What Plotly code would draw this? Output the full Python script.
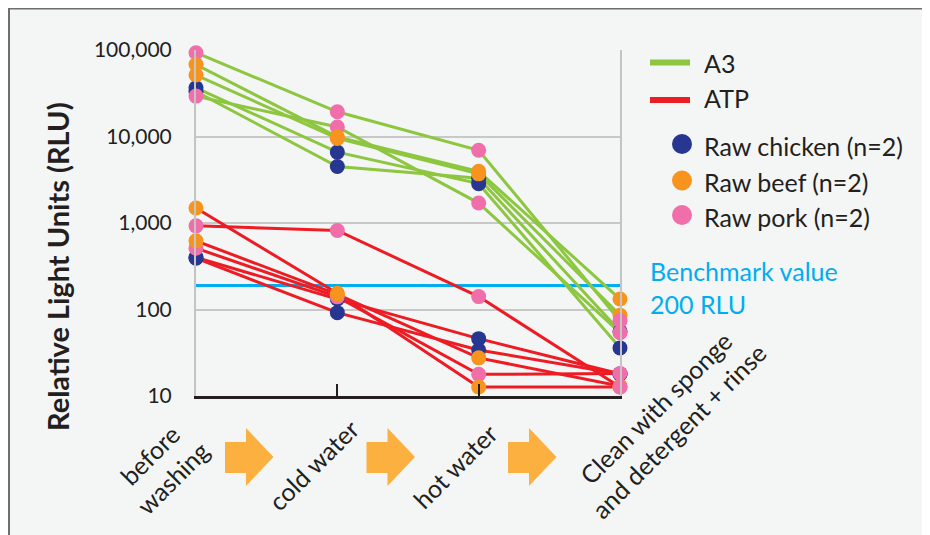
import plotly.graph_objects as go

# ---------------- data ----------------
STAGES = ["before washing", "cold water", "hot water", "clean"]
STAGE_LABELS = ["before<br>washing", "cold water", "hot water",
                "Clean with sponge<br>and detergent + rinse"]

Y_TICK_VALUES = [10, 100, 1000, 10000, 100000]
Y_TICK_LABELS = ["10", "100", "1,000", "10,000", "100,000"]

BENCHMARK_RLU = 190
BENCHMARK_TEXT = "Benchmark value<br>200 RLU"

# A3 readings (RLU) per stage
A3_CHICKEN_1 = [36600, 6600, 2850, 36]
A3_CHICKEN_2 = [33000, 4500, 3300, 56]
A3_PORK_1 = [93000, 19300, 6930, 74]
A3_PORK_2 = [29300, 12900, 1700, 54]
A3_BEEF_1 = [68000, 9900, 3960, 132]
A3_BEEF_2 = [51300, 9500, 3700, 86]

# ATP readings (RLU) per stage
ATP_CHICKEN_1 = [392, 92, 34, 18]
ATP_CHICKEN_2 = [400, 132, 46, 18]
ATP_PORK_1 = [927, 820, 141, 12.7]
ATP_PORK_2 = [512, 140, 17.8, 18.2]
ATP_BEEF_1 = [1490, 154, 12.7, 12.7]
ATP_BEEF_2 = [622, 150, 27.6, 13]

METHOD_NAMES = ["A3", "ATP"]

# ---------------- style ----------------
GREEN = "#8dc63f"
RED = "#ed1c24"
CYAN = "#00aeef"
NAVY = "#273691"
ORANGE = "#f7941d"
PINK = "#f06eaa"
ARROW = "#fbb040"
TEXT = "#231f20"
BG = "#f4f5f5"
FONT = "Lato"

SAMPLE_COLORS = {"Raw chicken (n=2)": NAVY, "Raw pork (n=2)": PINK, "Raw beef (n=2)": ORANGE}

samples = [
    ("Raw chicken (n=2)", A3_CHICKEN_1, ATP_CHICKEN_1),
    ("Raw chicken (n=2)", A3_CHICKEN_2, ATP_CHICKEN_2),
    ("Raw pork (n=2)", A3_PORK_1, ATP_PORK_1),
    ("Raw pork (n=2)", A3_PORK_2, ATP_PORK_2),
    ("Raw beef (n=2)", A3_BEEF_1, ATP_BEEF_1),
    ("Raw beef (n=2)", A3_BEEF_2, ATP_BEEF_2),
]

# plot area in page pixels (page has an 8px body margin)
OFF = 8
L, R, T, B = 196, 620, 50, 396
W_PX, H_PX = 930 - OFF, 535 - OFF


def px(x):
    return (x - L) / (R - L)


def py(y):
    return (B - y) / (B - T)


fig = go.Figure()

# benchmark line
fig.add_trace(go.Scatter(x=[STAGES[0], STAGES[-1]], y=[BENCHMARK_RLU, BENCHMARK_RLU],
                         mode="lines", line=dict(color=CYAN, width=3),
                         cliponaxis=False, showlegend=False, hoverinfo="skip"))

# lines
for name, a3, atp in samples:
    fig.add_trace(go.Scatter(x=STAGES, y=a3, mode="lines",
                             line=dict(color=GREEN, width=3),
                             cliponaxis=False, showlegend=False, name="A3"))
for name, a3, atp in samples:
    fig.add_trace(go.Scatter(x=STAGES, y=atp, mode="lines",
                             line=dict(color=RED, width=3),
                             cliponaxis=False, showlegend=False, name="ATP"))

# markers: first three stages (beef on top), then the last stage (pork on top)
order_early = ["Raw chicken (n=2)", "Raw pork (n=2)", "Raw beef (n=2)"]
order_last = ["Raw chicken (n=2)", "Raw beef (n=2)", "Raw pork (n=2)"]
for order, sl in ((order_early, slice(0, 3)), (order_last, slice(3, 4))):
    for group in order:
        for name, a3, atp in samples:
            if name != group:
                continue
            for vals in (a3, atp):
                fig.add_trace(go.Scatter(x=STAGES[sl], y=vals[sl], mode="markers",
                                         marker=dict(color=SAMPLE_COLORS[name], size=15,
                                                     line=dict(width=0)),
                                         cliponaxis=False, showlegend=False, name=name))

shapes = []
# frame background
shapes.append(dict(type="rect", xref="paper", yref="paper",
                   x0=px(9), x1=px(945), y0=py(550), y1=py(8.5),
                   fillcolor=BG, line=dict(color="#6d6e71", width=2), layer="below"))

# process arrows between stages
for i in range(3):
    off = i * 141.5
    x0, xn, xt = 225 + off, 246 + off, 273.5 + off
    path = (f"M {px(x0)} {py(442)} L {px(xn)} {py(442)} L {px(xn)} {py(428)} "
            f"L {px(xt)} {py(457)} L {px(xn)} {py(486)} L {px(xn)} {py(473)} "
            f"L {px(x0)} {py(473)} Z")
    shapes.append(dict(type="path", xref="paper", yref="paper", path=path,
                       fillcolor=ARROW, line=dict(width=0)))

# legend glyphs
shapes.append(dict(type="line", xref="paper", yref="paper",
                   x0=px(650), x1=px(690), y0=py(62.5), y1=py(62.5),
                   line=dict(color=GREEN, width=6)))
shapes.append(dict(type="line", xref="paper", yref="paper",
                   x0=px(650), x1=px(690), y0=py(100), y1=py(100),
                   line=dict(color=RED, width=6)))
legend_rows = [("Raw chicken (n=2)", 144), ("Raw beef (n=2)", 180.5), ("Raw pork (n=2)", 215)]
for name, cy in legend_rows:
    shapes.append(dict(type="circle", xref="paper", yref="paper",
                       x0=px(672), x1=px(692), y0=py(cy + 10), y1=py(cy - 10),
                       fillcolor=SAMPLE_COLORS[name], line=dict(width=0)))

annotations = []
# y title
annotations.append(dict(text="Relative Light Units (RLU)", xref="paper", yref="paper",
                        x=px(57), y=py(267), textangle=-90, showarrow=False,
                        xanchor="center", yanchor="middle",
                        font=dict(family=FONT, size=29, color=TEXT, weight="bold")))
# x labels
label_centers = [(161, 466), (313, 465), (455, 466), (667, 419)]
for lab, (cx, cy) in zip(STAGE_LABELS, label_centers):
    annotations.append(dict(text=lab, xref="paper", yref="paper", x=px(cx), y=py(cy),
                            textangle=-45, showarrow=False, xanchor="center",
                            yanchor="middle", align="center",
                            font=dict(family=FONT, size=25, color=TEXT)))
# legend texts
for txt, cy in [(METHOD_NAMES[0], 63), (METHOD_NAMES[1], 98)] + [(n, c + 1.5) for n, c in legend_rows]:
    annotations.append(dict(text=txt, xref="paper", yref="paper", x=px(702), y=py(cy),
                            showarrow=False, xanchor="left", yanchor="middle",
                            font=dict(family=FONT, size=25, color=TEXT)))
# benchmark text
annotations.append(dict(text=BENCHMARK_TEXT, xref="paper", yref="paper", x=px(648), y=py(287),
                        showarrow=False, xanchor="left", yanchor="middle", align="left",
                        font=dict(family=FONT, size=25, color=CYAN)))

fig.update_layout(
    width=W_PX, height=H_PX,
    margin=dict(l=L - OFF, r=W_PX - (R - OFF), t=T - OFF, b=H_PX - (B - OFF), autoexpand=False),
    paper_bgcolor="white", plot_bgcolor="rgba(0,0,0,0)",
    showlegend=False, shapes=shapes, annotations=annotations,
    font=dict(family=FONT, color=TEXT),
    xaxis=dict(type="category", categoryorder="array", categoryarray=STAGES,
               range=[0, 3], showgrid=False, showticklabels=False,
               ticks="inside", ticklen=12, tickwidth=2, tickcolor=TEXT,
               showline=True, linecolor=TEXT, linewidth=3, zeroline=False,
               automargin=False, fixedrange=True),
    yaxis=dict(type="log", range=[1, 5], tickvals=Y_TICK_VALUES, ticktext=Y_TICK_LABELS,
               showgrid=True, gridcolor="#c8c8c8", gridwidth=2,
               showline=True, linecolor="#c4c4c4", linewidth=2, mirror=True,
               ticks="", ticklabelstandoff=18, automargin=False,
               tickfont=dict(family=FONT, size=21, color=TEXT), fixedrange=True),
)

fig.write_html("out.html")
